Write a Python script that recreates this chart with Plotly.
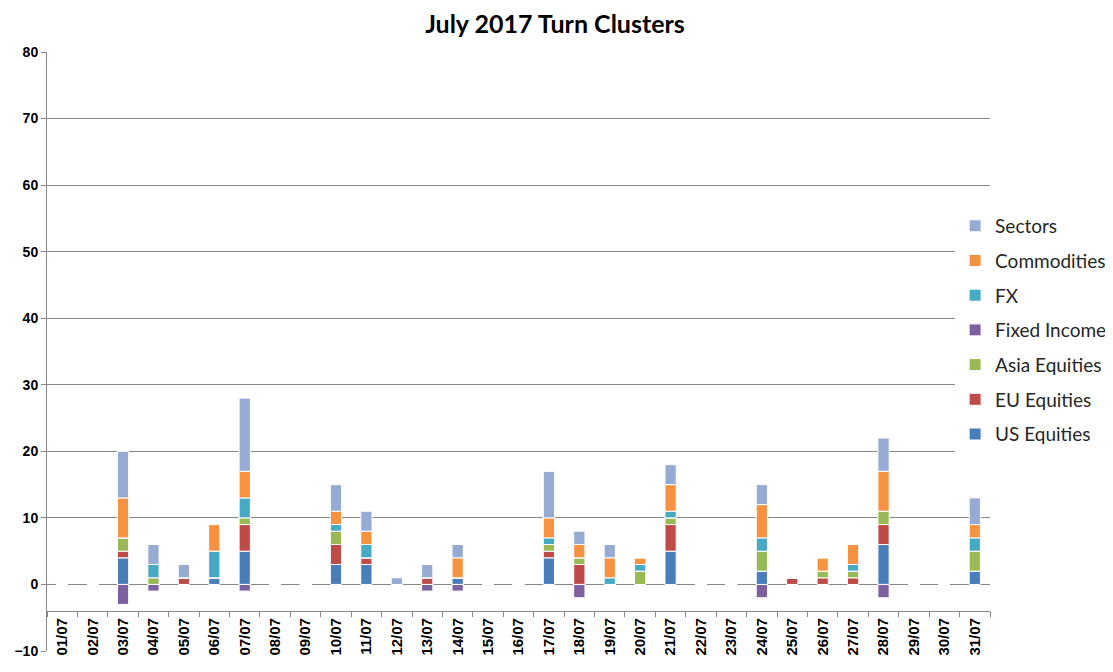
import plotly.graph_objects as go

# categories (day/month)
days = ['%02d/07' % d for d in range(1, 32)]

us_equities = [0, 0, 4, 0, 0, 1, 5, 0, 0, 3, 3, 0, 0, 1, 0, 0, 4, 0, 0, 0, 5, 0, 0, 2, 0, 0, 0, 6, 0, 0, 2]
eu_equities = [0, 0, 1, 0, 1, 0, 4, 0, 0, 3, 1, 0, 1, 0, 0, 0, 1, 3, 0, 0, 4, 0, 0, 0, 1, 1, 1, 3, 0, 0, 0]
asia_equities = [0, 0, 2, 1, 0, 0, 1, 0, 0, 2, 0, 0, 0, 0, 0, 0, 1, 1, 0, 2, 1, 0, 0, 3, 0, 1, 1, 2, 0, 0, 3]
fixed_income = [0, 0, -3, -1, 0, 0, -1, 0, 0, 0, 0, 0, -1, -1, 0, 0, 0, -2, 0, 0, 0, 0, 0, -2, 0, 0, 0, -2, 0, 0, 0]
fx = [0, 0, 0, 2, 0, 4, 3, 0, 0, 1, 2, 0, 0, 0, 0, 0, 1, 0, 1, 1, 1, 0, 0, 2, 0, 0, 1, 0, 0, 0, 2]
commodities = [0, 0, 6, 0, 0, 4, 4, 0, 0, 2, 2, 0, 0, 3, 0, 0, 3, 2, 3, 1, 4, 0, 0, 5, 0, 2, 3, 6, 0, 0, 2]
sectors = [0, 0, 7, 3, 2, 0, 11, 0, 0, 4, 3, 1, 2, 2, 0, 0, 7, 2, 2, 0, 3, 0, 0, 3, 0, 0, 0, 5, 0, 0, 4]

series = [
    ('US Equities', us_equities, '#4A7EBB'),
    ('EU Equities', eu_equities, '#BE4B48'),
    ('Asia Equities', asia_equities, '#98B954'),
    ('Fixed Income', fixed_income, '#7D60A0'),
    ('FX', fx, '#46AAC5'),
    ('Commodities', commodities, '#F69240'),
    ('Sectors', sectors, '#95ABD3'),
]

grid = '#868686'

fig = go.Figure()
for i, (name, vals, col) in enumerate(series):
    # legend lists the stack top-down
    fig.add_trace(go.Bar(x=days, y=vals, name=name, legendgroup=name,
                         legendrank=1000 - i * 10,
                         marker=dict(color=col, line=dict(color='white', width=1))))

# page body adds 8px margin, so the figure is 8px smaller than the window
fig.update_layout(
    width=1105, height=664,
    barmode='relative', bargap=0.63,
    plot_bgcolor='white', paper_bgcolor='white',
    margin=dict(l=39, r=123, t=44, b=21, autoexpand=False),
    title=dict(text='<b>July 2017 Turn Clusters</b>', xref='container', x=0.495,
               xanchor='center', y=0.976, yanchor='middle',
               font=dict(family='Lato', size=25, color='black')),
    legend=dict(x=0.963, xanchor='left', y=0.536, yanchor='middle',
                traceorder='grouped', tracegroupgap=7,
                font=dict(family='Lato', size=19, color='#262626')),
    xaxis=dict(type='category', anchor='free', position=6 / 90,
               showline=True, linecolor=grid, linewidth=1,
               ticks='outside', tickson='boundaries', ticklen=5, tickcolor=grid,
               tickangle=-90, automargin=False,
               tickfont=dict(family='Liberation Sans', size=15, color='black', weight='bold')),
    yaxis=dict(range=[-10, 80], dtick=10, showgrid=True, gridcolor=grid,
               zeroline=False, showline=True, linecolor=grid,
               ticks='outside', ticklen=5, tickcolor=grid, automargin=False,
               tickfont=dict(family='Liberation Sans', size=14, color='black', weight='bold')),
)

fig.write_html('out.html')
